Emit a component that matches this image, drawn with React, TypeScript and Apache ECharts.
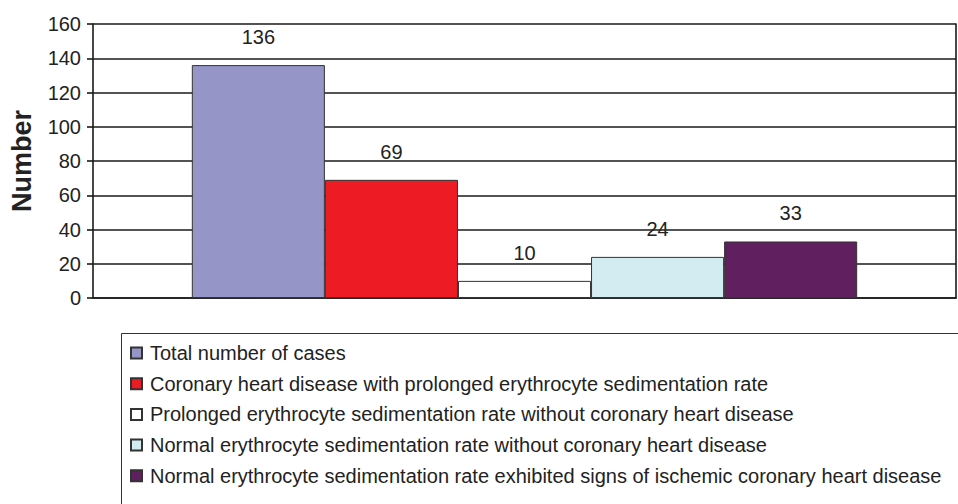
import React, { useEffect, useRef } from "react";
import * as echarts from "echarts";

const seriesNames = [
  "Total number of cases",
  "Coronary heart disease with prolonged erythrocyte sedimentation rate",
  "Prolonged erythrocyte sedimentation rate without coronary heart disease",
  "Normal erythrocyte sedimentation rate without coronary heart disease",
  "Normal erythrocyte sedimentation rate exhibited signs of ischemic coronary heart disease",
];
const seriesValues = [136, 69, 10, 24, 33];
const seriesColors = ["#9595C8", "#ED1C24", "#FFFFFF", "#D3ECF2", "#601F5F"];
const categories = [""];
const yAxisName = "Number";

const FONT = "Liberation Sans, Arial, sans-serif";

export default function App() {
  const ref = useRef<HTMLDivElement>(null);
  useEffect(() => {
    if (!ref.current) return;
    const chart = echarts.init(ref.current, null, { renderer: "svg" });
    chart.setOption({
      animation: false,
      textStyle: { fontFamily: FONT },
      grid: { left: 92, right: 2, top: 24, bottom: 206, containLabel: false },
      xAxis: {
        type: "category",
        data: categories,
        axisLine: { show: true, lineStyle: { color: "#1a1a1a", width: 1.6 } },
        axisTick: { show: false },
        axisLabel: { show: false },
        splitLine: { show: false },
      },
      yAxis: [
        {
          type: "value",
          min: 0,
          max: 160,
          interval: 20,
          name: yAxisName,
          nameLocation: "middle",
          nameGap: 58,
          nameRotate: 90,
          nameTextStyle: { fontSize: 27, fontWeight: "bold", color: "#222", fontFamily: FONT },
          axisLine: { show: true, lineStyle: { color: "#1a1a1a", width: 1.6 } },
          axisTick: { show: true, length: 6, inside: false, lineStyle: { color: "#1a1a1a", width: 1.6 } },
          axisLabel: { fontSize: 20, color: "#222", margin: 12, fontFamily: FONT },
          splitLine: { show: true, lineStyle: { color: "#1a1a1a", width: 1.6 } },
        },
        {
          type: "value",
          min: 0,
          max: 160,
          interval: 20,
          position: "right",
          axisLine: { show: true, lineStyle: { color: "#1a1a1a", width: 1.6 } },
          axisTick: { show: false },
          axisLabel: { show: false },
          splitLine: { show: false },
        },
      ],
      legend: {
        orient: "vertical",
        left: 130,
        top: 343,
        padding: 0,
        itemGap: 10.7,
        itemWidth: 11,
        itemHeight: 11,
        icon: "rect",
        data: seriesNames,
        textStyle: { fontSize: 20, color: "#222", lineHeight: 20, fontFamily: FONT, padding: [0, 0, 0, 3] },
      },
      graphic: [
        {
          type: "rect",
          shape: { x: 121.5, y: 333.5, width: 900, height: 300 },
          style: { fill: "none", stroke: "#333", lineWidth: 1 },
          silent: true,
        },
      ],
      series: seriesNames.map((name, i) => ({
        type: "bar",
        name,
        data: [seriesValues[i]],
        barGap: "0%",
        barCategoryGap: "22.9%",
        itemStyle: { color: seriesColors[i], borderColor: "#333", borderWidth: 1 },
        label: {
          show: true,
          position: "top",
          distance: 18,
          fontSize: 20,
          color: "#222",
          fontFamily: FONT,
        },
      })),
    });
    return () => chart.dispose();
  }, []);
  return (
    <div
      ref={ref}
      style={{ position: "fixed", left: 0, top: 0, width: 958, height: 504, background: "#fff" }}
    />
  );
}
